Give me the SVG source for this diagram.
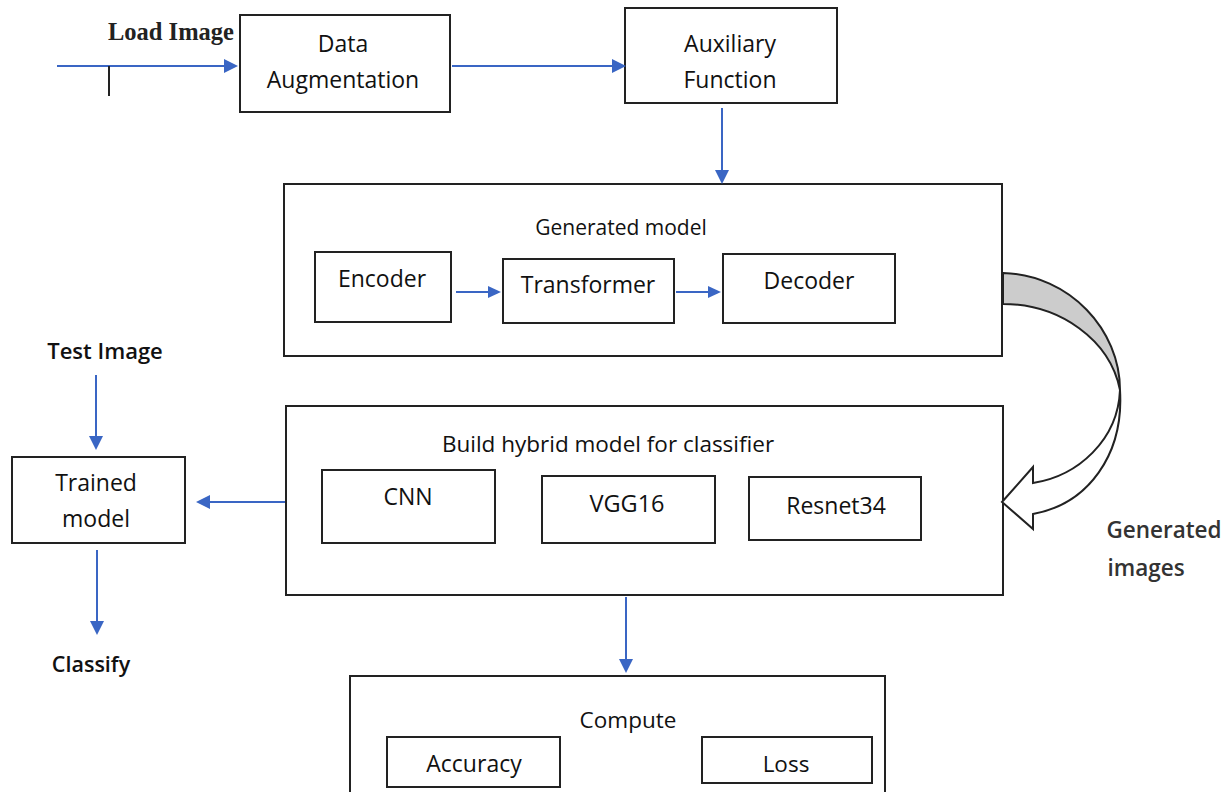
<svg xmlns="http://www.w3.org/2000/svg" width="1224" height="792" viewBox="0 0 1224 792">
<defs>
<style>
.box{fill:#fff;stroke:#222;stroke-width:2}
.t{font-family:"Open Sans","Noto Sans",sans-serif;fill:#111;text-anchor:middle}
.c{stroke:#3a66c4;stroke-width:2;fill:none}
.h{fill:#3a66c4}
</style>
</defs>
<rect width="1224" height="792" fill="#fff"/>
<g id="load-image"><text x="171" y="40" style="font-family:'Liberation Serif',serif;font-size:24.5px;font-weight:bold;fill:#222;text-anchor:middle">Load Image</text></g>
<g id="data-augmentation">
<rect class="box" x="240" y="15" width="210" height="97"/>
<text class="t" x="343" y="52" font-size="23">Data</text>
<text class="t" x="343" y="88" font-size="23">Augmentation</text>
</g>
<g id="auxiliary-function">
<rect class="box" x="625" y="8" width="212" height="95"/>
<text class="t" x="730" y="52" font-size="23">Auxiliary</text>
<text class="t" x="730" y="88" font-size="23">Function</text>
</g>
<g id="generated-model">
<rect class="box" x="284" y="184" width="718" height="172"/>
<text class="t" x="621" y="235" font-size="21">Generated model</text>
</g>
<g id="encoder"><rect class="box" x="315" y="252" width="136" height="70"/><text class="t" x="382" y="287" font-size="23">Encoder</text></g>
<g id="transformer"><rect class="box" x="503" y="259" width="171" height="64"/><text class="t" x="588" y="293" font-size="23">Transformer</text></g>
<g id="decoder"><rect class="box" x="723" y="254" width="172" height="69"/><text class="t" x="809" y="289" font-size="23">Decoder</text></g>
<g id="hybrid-model">
<rect class="box" x="286" y="406" width="717" height="189"/>
<text class="t" x="608" y="452" font-size="22.5">Build hybrid model for classifier</text>
</g>
<g id="cnn"><rect class="box" x="322" y="470" width="173" height="73"/><text class="t" x="408" y="505" font-size="23">CNN</text></g>
<g id="vgg16"><rect class="box" x="542" y="476" width="173" height="67"/><text class="t" x="627" y="512" font-size="23.5">VGG16</text></g>
<g id="resnet34"><rect class="box" x="749" y="477" width="172" height="63"/><text class="t" x="836" y="514" font-size="23">Resnet34</text></g>
<g id="generated-images">
<text class="t" x="1164" y="538" font-size="22.5" font-weight="600" style="fill:#333">Generated</text>
<text class="t" x="1146" y="576" font-size="22.5" font-weight="600" style="fill:#333">images</text>
</g>
<g id="test-image"><text class="t" x="105" y="359" font-size="22" font-weight="600">Test Image</text></g>
<g id="trained-model">
<rect class="box" x="12" y="457" width="173" height="86"/>
<text class="t" x="96" y="491" font-size="23">Trained</text>
<text class="t" x="96" y="527" font-size="23">model</text>
</g>
<g id="classify"><text class="t" x="91" y="672" font-size="21.5" font-weight="600">Classify</text></g>
<g id="compute">
<rect class="box" x="350" y="676" width="535" height="130"/>
<text class="t" x="628" y="728" font-size="22.5">Compute</text>
</g>
<g id="accuracy"><rect class="box" x="387" y="737" width="173" height="50"/><text class="t" x="474" y="772" font-size="23">Accuracy</text></g>
<g id="loss"><rect class="box" x="702" y="737" width="170" height="46"/><text class="t" x="786" y="772" font-size="22.5">Loss</text></g>
<g id="connectors">
<line class="c" x1="57" y1="66" x2="226" y2="66"/>
<path class="h" d="M224,59 L238,66 L224,73 Z"/>
<line x1="109" y1="66" x2="109" y2="96" stroke="#222" stroke-width="2"/>
<line class="c" x1="452" y1="66" x2="614" y2="66"/>
<path class="h" d="M612,59 L626,66 L612,73 Z"/>
<line class="c" x1="722" y1="108" x2="722" y2="172"/>
<path class="h" d="M715,170 L722,184 L729,170 Z"/>
<line class="c" x1="456" y1="292" x2="490" y2="292"/>
<path class="h" d="M488,286 L501,292 L488,298 Z"/>
<line class="c" x1="676" y1="292" x2="710" y2="292"/>
<path class="h" d="M708,286 L721,292 L708,298 Z"/>
<line class="c" x1="285" y1="502" x2="208" y2="502"/>
<path class="h" d="M210,495 L196,502 L210,509 Z"/>
<line class="c" x1="96" y1="375" x2="96" y2="438"/>
<path class="h" d="M89,436 L96,450 L103,436 Z"/>
<line class="c" x1="97" y1="550" x2="97" y2="623"/>
<path class="h" d="M90,621 L97,635 L104,621 Z"/>
<line class="c" x1="626" y1="597" x2="626" y2="661"/>
<path class="h" d="M619,659 L626,673 L633,659 Z"/>
<path d="M1003,273 C1070,275 1120,330 1120,390 C1110,340 1060,304 1003,304 Z" fill="#cccccc" stroke="#222" stroke-width="2" stroke-linejoin="round"/>
<path d="M1120,390 C1118,440 1078,476 1033,483 L1033,467 L1002,502 L1033,529 L1033,514 C1088,504 1124,455 1120,390 Z" fill="#fff" stroke="#222" stroke-width="2"/>
</g>
</svg>
